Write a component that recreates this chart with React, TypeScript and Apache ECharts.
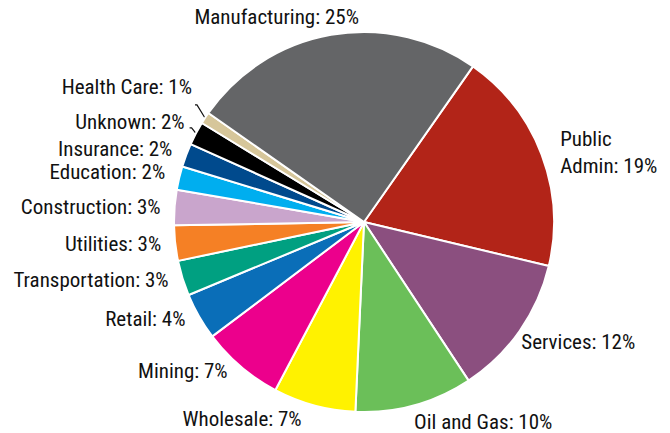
import React, { useEffect, useRef } from "react";
import * as echarts from "echarts";

const categories = [
  "Public\nAdmin",
  "Services",
  "Oil and Gas",
  "Wholesale",
  "Mining",
  "Retail",
  "Transportation",
  "Utilities",
  "Construction",
  "Education",
  "Insurance",
  "Unknown",
  "Health Care",
  "Manufacturing",
];
const values = [19, 12, 10, 7, 7, 4, 3, 3, 3, 2, 2, 2, 1, 25];
const colors = [
  "#B22418",
  "#8B4F7F",
  "#6BBF59",
  "#FFF200",
  "#EC008C",
  "#0A6EB8",
  "#00A081",
  "#F58025",
  "#C9A5CC",
  "#00AEEF",
  "#004A8D",
  "#000000",
  "#D6C69A",
  "#646567",
];

// per-label styling tweaks (nudges / leader lines), not data
const labelTweaks: Record<string, any> = {
  "Public\nAdmin": { label: { lineHeight: 27 } },
  Services: { label: { offset: [-12, 9] } },
  "Oil and Gas": { label: { offset: [-15, 12] } },
  Wholesale: { label: { offset: [2, 8] } },
  Education: { label: { offset: [0, -5] } },
  Insurance: { label: { offset: [0, -4] } },
  Unknown: { labelLine: { show: true, length: 12, length2: 2 }, label: { offset: [0, -6] } },
  "Health Care": { labelLine: { show: true, length: 24, length2: 2 }, label: { offset: [2, -18] } },
  Manufacturing: { label: { offset: [42, -12] } },
};

export default function App() {
  const ref = useRef<HTMLDivElement>(null);
  useEffect(() => {
    document.body.style.margin = "0";
    const chart = echarts.init(ref.current!, null, { renderer: "svg" });
    chart.setOption({
      animation: false,
      backgroundColor: "#ffffff",
      series: [
        {
          type: "pie",
          center: [364, 222],
          radius: 190,
          startAngle: 55,
          clockwise: true,
          avoidLabelOverlap: true,
          itemStyle: { borderColor: "#ffffff", borderWidth: 2 },
          label: {
            show: true,
            position: "outside",
            formatter: "{b}: {c}%",
            fontFamily: "'Roboto Condensed', 'Liberation Sans Narrow', 'DejaVu Sans Condensed', Roboto, sans-serif",
            fontSize: 21,
            color: "#111111",
            lineHeight: 20,
          },
          labelLine: {
            show: false,
            length: 6,
            length2: 8,
            lineStyle: { color: "#111111", width: 1.2 },
          },
          data: categories.map((c, i) => ({
            name: c,
            value: values[i],
            itemStyle: { color: colors[i] },
            ...(labelTweaks[c] || {}),
          })),
        },
      ],
    });
    return () => chart.dispose();
  }, []);
  return <div ref={ref} style={{ width: 670, height: 433 }} />;
}
